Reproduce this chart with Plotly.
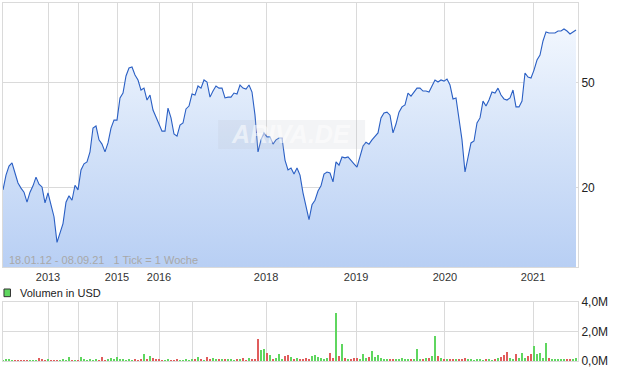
import plotly.graph_objects as go

# ---- data ----
price = [19.6, 22.3, 24.1, 24.8, 22.7, 20.8, 19.9, 19.2, 17.6, 19.2,
         20.3, 21.9, 20.6, 20.1, 17.5, 19.1, 17.2, 15.5, 12.4, 13.5,
         14.6, 17.6, 18.6, 17.9, 20.4, 19.6, 23.3, 24.6, 25.0, 27.3,
         33.6, 34.2, 30.3, 29.2, 27.3, 29.5, 33.6, 36.0, 36.0, 43.7,
         45.6, 52.9, 56.7, 57.2, 53.4, 51.1, 46.8, 47.6, 42.9, 44.8,
         39.3, 37.0, 34.5, 32.7, 32.7, 40.0, 36.7, 31.9, 31.3, 34.5,
         35.1, 39.7, 40.7, 45.2, 44.8, 48.5, 47.6, 51.1, 50.2, 44.0,
         46.4, 48.5, 47.6, 47.6, 43.7, 44.0, 44.0, 45.6, 45.2, 48.9,
         47.6, 47.2, 48.9, 46.0, 37.6, 27.3, 30.3, 32.2, 31.1, 31.1,
         29.2, 30.3, 30.8, 30.8, 25.4, 23.3, 23.7, 22.5, 23.7, 22.3,
         19.1, 17.2, 15.1, 17.2, 17.9, 19.4, 20.3, 22.5, 22.9, 22.7,
         21.0, 25.0, 24.3, 26.1, 25.9, 26.1, 25.2, 24.6, 23.9, 26.1,
         28.7, 29.7, 29.2, 30.3, 31.1, 32.2, 36.7, 38.3, 38.6, 37.6,
         32.2, 34.8, 38.6, 40.4, 41.1, 45.6, 44.4, 46.0, 47.6, 47.6,
         46.4, 46.4, 46.0, 48.5, 51.1, 50.2, 51.1, 50.6, 51.5, 48.9,
         43.3, 43.7, 36.7, 30.3, 22.9, 26.3, 29.5, 30.0, 35.1, 36.7,
         42.5, 40.7, 42.9, 46.0, 45.6, 47.6, 44.8, 43.3, 42.9, 43.7,
         46.8, 40.4, 40.4, 42.5, 54.3, 52.4, 52.0, 55.7, 60.8, 63.5,
         71.8, 77.7, 77.0, 77.0, 77.0, 78.3, 78.3, 79.7, 78.3, 76.3,
         77.7, 79.0]

volume_m = [0.05, 0.09, 0.09, 0.05, 0.05, 0.04, 0.05, 0.04, 0.05, 0.04,
            0.05, 0.05, 0.20, 0.11, 0.05, 0.11, 0.05, 0.05, 0.06, 0.05,
            0.14, 0.05, 0.27, 0.05, 0.06, 0.05, 0.27, 0.11, 0.06, 0.11,
            0.06, 0.07, 0.06, 0.27, 0.06, 0.14, 0.18, 0.11, 0.27, 0.07,
            0.11, 0.06, 0.11, 0.06, 0.07, 0.06, 0.11, 0.47, 0.07, 0.34,
            0.18, 0.14, 0.14, 0.05, 0.06, 0.11, 0.05, 0.06, 0.11, 0.06,
            0.06, 0.11, 0.06, 0.14, 0.07, 0.27, 0.14, 0.06, 0.27, 0.07,
            0.20, 0.16, 0.11, 0.14, 0.14, 0.14, 0.07, 0.06, 0.14, 0.07,
            0.20, 0.06, 0.20, 0.07, 0.07, 1.47, 0.75, 0.81, 0.54, 0.38,
            0.14, 0.20, 0.45, 0.07, 0.34, 0.38, 0.25, 0.11, 0.23, 0.14,
            0.12, 0.23, 0.11, 0.34, 0.38, 0.27, 0.23, 0.16, 0.23, 0.54,
            0.18, 3.28, 0.34, 1.13, 0.18, 0.09, 0.11, 0.18, 0.18, 0.14,
            0.45, 0.18, 0.27, 0.68, 0.27, 0.41, 0.18, 0.14, 0.11, 0.12,
            0.11, 0.12, 0.11, 0.18, 0.14, 0.14, 0.11, 0.12, 0.79, 0.14,
            0.11, 0.18, 0.23, 0.34, 1.70, 0.32, 0.18, 0.11, 0.14, 0.07,
            0.09, 0.07, 0.09, 0.07, 0.18, 0.11, 0.07, 0.06, 0.09, 0.07,
            0.06, 0.09, 0.07, 0.06, 0.09, 0.18, 0.27, 0.41, 0.63, 0.23,
            0.14, 0.45, 0.23, 0.57, 0.23, 0.34, 0.45, 1.02, 0.45, 0.57,
            0.23, 1.25, 0.18, 0.14, 0.09, 0.14, 0.09, 0.14, 0.09, 0.14,
            0.09, 0.23]

grid_ticks = [15, 25, 38, 52, 63, 87.67, 117.67, 147.33, 176.67]
grid_labels = ["2013", "", "2015", "2016", "", "2018", "2019", "2020", "2021"]

price_ticks = [20, 50]
vol_ticks = [0, 2, 4]
vol_tick_labels = ["0,0M", "2,0M", "4,0M"]

x = list(range(len(price)))
n = len(price)

GRID = "#dadada"
LINE = "#2a5fc4"
GREEN = "#5fd65f"
RED = "#e05c5c"
FONT = "Liberation Sans, Arial, sans-serif"

bar_colors = [GREEN] + [GREEN if price[i] >= price[i - 1] else RED for i in range(1, n)]

fig = go.Figure()

# baseline for fill
fig.add_trace(go.Scatter(x=x, y=[9.0] * n, mode="lines", line=dict(width=0),
                         hoverinfo="skip", showlegend=False, xaxis="x", yaxis="y"))
fig.add_trace(go.Scatter(
    x=x, y=price, mode="lines", line=dict(color=LINE, width=1.1),
    fill="tonexty",
    fillgradient=dict(type="vertical",
                      colorscale=[[0, "#b8cff4"], [0.5, "#d6e4f9"], [1, "#f8fbff"]],
                      start=10, stop=100),
    showlegend=False, xaxis="x", yaxis="y"))

fig.add_trace(go.Bar(x=x, y=volume_m, marker=dict(color=bar_colors, line=dict(width=0)),
                     width=0.4, showlegend=False, xaxis="x2", yaxis="y2"))

xr = [0, (n - 1) * 575 / 573]

fig.update_layout(
    width=620, height=371,
    margin=dict(l=3, r=42, t=3, b=10, autoexpand=False),
    paper_bgcolor="white", plot_bgcolor="white",
    font=dict(family=FONT, size=12, color="#222"),
    bargap=0,
    xaxis=dict(domain=[0, 1], range=xr, tickvals=grid_ticks, ticktext=grid_labels,
               showgrid=True, gridcolor=GRID, gridwidth=1, zeroline=False,
               showline=True, linecolor=GRID, mirror=True, ticks="", automargin=False,
               tickfont=dict(size=11, color="#333"), anchor="y"),
    yaxis=dict(domain=[0.2626, 1], type="log", range=[1, 2], tickvals=price_ticks,
               ticktext=[str(v) for v in price_ticks], side="right",
               showgrid=True, gridcolor=GRID, zeroline=False, automargin=False,
               showline=True, linecolor=GRID, mirror=True, ticks="",
               tickfont=dict(size=12, color="#222"), anchor="x"),
    xaxis2=dict(domain=[0, 1], range=xr, tickvals=grid_ticks, showticklabels=False,
                showgrid=True, gridcolor=GRID, zeroline=False, automargin=False,
                showline=True, linecolor=GRID, mirror=True, ticks="", anchor="y2"),
    yaxis2=dict(domain=[0, 0.1648], range=[0, 4], tickvals=vol_ticks,
                ticktext=vol_tick_labels, side="right",
                showgrid=True, gridcolor=GRID, zeroline=False, automargin=False,
                showline=True, linecolor=GRID, mirror=True, ticks="",
                tickfont=dict(size=12, color="#222"), anchor="x2"),
)

# watermark
fig.add_shape(type="rect", xref="paper", yref="paper",
              x0=0.374, x1=0.6296, y0=0.592, y1=0.673,
              fillcolor="rgba(190,195,205,0.18)", line=dict(width=0), layer="above")
fig.add_annotation(text="<b><i>ARIVA.DE</i></b>", xref="paper", yref="paper",
                   x=0.5009, y=0.6327, showarrow=False,
                   font=dict(size=25, color="rgba(255,255,255,0.55)", family=FONT))

# date range text
fig.add_annotation(text="18.01.12 - 08.09.21   1 Tick = 1 Woche", xref="paper", yref="paper",
                   x=0.0075, y=0.2835, xanchor="left", yanchor="middle", showarrow=False,
                   font=dict(size=11, color="#a8a8a8", family=FONT))

# volume legend
fig.add_shape(type="rect", xref="paper", yref="paper",
              x0=0.0017, x1=0.0130, y0=0.1797, y1=0.2011,
              fillcolor=GREEN, line=dict(color="#333", width=1))
fig.add_annotation(text="Volumen in USD", xref="paper", yref="paper",
                   x=0.026, y=0.19, xanchor="left", yanchor="middle", showarrow=False,
                   font=dict(size=11, color="#222", family=FONT))

fig.write_html("out.html", config={"displayModeBar": False},
               post_script="document.body.style.margin='0';document.body.style.padding='0';")
